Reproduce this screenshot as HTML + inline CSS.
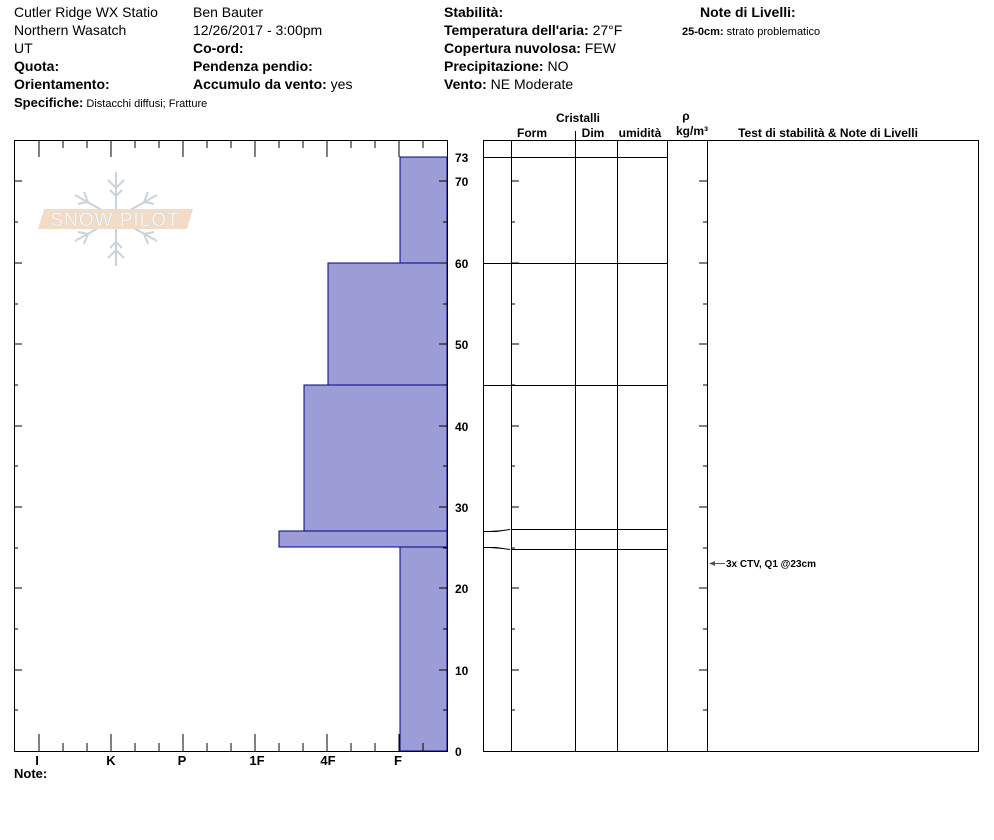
<!DOCTYPE html>
<html><head><meta charset="utf-8"><style>
body{margin:0;background:#fff;}
svg{display:block;font-family:"Liberation Sans",Arial,sans-serif;}
.b{font-weight:bold}
</style></head><body>
<svg width="994" height="840" viewBox="0 0 994 840" xmlns="http://www.w3.org/2000/svg">
<g font-size="14" fill="#000">
<text x="14" y="17">Cutler Ridge WX Statio</text>
<text x="14" y="35">Northern Wasatch</text>
<text x="14" y="53">UT</text>
<text x="14" y="71" class="b">Quota:</text>
<text x="14" y="89" class="b">Orientamento:</text>
<text x="14" y="107"><tspan class="b" font-size="13">Specifiche:</tspan><tspan font-size="11"> Distacchi diffusi; Fratture</tspan></text>
<text x="193" y="17">Ben Bauter</text>
<text x="193" y="35">12/26/2017 - 3:00pm</text>
<text x="193" y="53" class="b">Co-ord:</text>
<text x="193" y="71" class="b">Pendenza pendio:</text>
<text x="193" y="89"><tspan class="b">Accumulo da vento:</tspan> yes</text>
<text x="444" y="17" class="b">Stabilità:</text>
<text x="444" y="35"><tspan class="b">Temperatura dell'aria:</tspan> 27°F</text>
<text x="444" y="53"><tspan class="b">Copertura nuvolosa:</tspan> FEW</text>
<text x="444" y="71"><tspan class="b">Precipitazione:</tspan> NO</text>
<text x="444" y="89"><tspan class="b">Vento:</tspan>  NE Moderate</text>
<text x="700" y="17" class="b">Note di Livelli:</text>
<text x="682" y="35" font-size="11"><tspan class="b">25-0cm:</tspan> strato problematico</text>
</g>
<!-- logo -->
<g stroke="#c8d3db" stroke-width="2" fill="none">
<line x1="116" y1="172" x2="116" y2="266"/>
<line x1="75" y1="195" x2="157" y2="241"/>
<line x1="75" y1="241" x2="157" y2="195"/>
<polyline points="108,180 116,188 124,180"/><polyline points="110,190 116,196 122,190"/>
<polyline points="108,258 116,250 124,258"/><polyline points="110,248 116,242 122,248"/>
<polyline points="78,204 88,202 84,192"/><polyline points="154,204 144,202 148,192"/>
<polyline points="78,232 88,234 84,244"/><polyline points="154,232 144,234 148,244"/>
</g>
<polygon points="44,209 193,209 187,229 38,229" fill="#f2dcc6"/>
<text x="115" y="226" font-size="19" text-anchor="middle" fill="#fff" stroke="#d8d8d8" stroke-width="0.6" letter-spacing="1">SNOW PILOT</text>
<!-- left chart -->
<g fill="#9c9cd6" stroke="#00008b" stroke-width="1">
<rect x="400" y="157" width="47" height="106"/>
<rect x="328" y="263" width="119" height="122"/>
<rect x="304" y="385" width="143" height="146"/>
<rect x="279" y="531" width="168" height="16"/>
<rect x="400" y="547" width="47" height="204"/>
</g>
<rect x="14.5" y="140.5" width="433" height="611" fill="none" stroke="#000"/>
<g stroke="#000" stroke-width="1">
<path d="M39 140v17M63 140v8M87 140v8M111 140v17M135 140v8M159 140v8M183 140v17M207 140v8M231 140v8M255 140v17M279 140v8M303 140v8M327 140v17M351 140v8M375 140v8M399 140v17M423 140v8"/>
<path d="M39 751v-17M63 751v-8M87 751v-8M111 751v-17M135 751v-8M159 751v-8M183 751v-17M207 751v-8M231 751v-8M255 751v-17M279 751v-8M303 751v-8M327 751v-17M351 751v-8M375 751v-8M399 751v-17M423 751v-8"/>
<path d="M14 181h8M14 222h4M14 263h8M14 304h4M14 344h8M14 385h4M14 426h8M14 466h4M14 507h8M14 548h4M14 588h8M14 629h4M14 670h8M14 710h4"/>
<path d="M447 181h-8M447 222h-4M447 263h-8M447 304h-4M447 344h-8M447 385h-4M447 426h-8M447 466h-4M447 507h-8M447 548h-4M447 588h-8M447 629h-4M447 670h-8M447 710h-4"/>
</g>
<g font-size="12" class="b" font-weight="bold">
<text x="455" y="162">73</text><text x="455" y="186">70</text><text x="455" y="268">60</text><text x="455" y="349">50</text><text x="455" y="431">40</text><text x="455" y="512">30</text><text x="455" y="593">20</text><text x="455" y="675">10</text><text x="455" y="756">0</text>
</g>
<g font-size="13" font-weight="bold" text-anchor="middle">
<text x="37" y="765">I</text><text x="111" y="765">K</text><text x="182" y="765">P</text><text x="257" y="765">1F</text><text x="328" y="765">4F</text><text x="398" y="765">F</text>
</g>
<text x="14" y="778" font-size="13" font-weight="bold">Note:</text>
<!-- right chart -->
<g font-size="12" font-weight="bold" text-anchor="middle">
<text x="578" y="122">Cristalli</text>
<text x="532" y="137">Form</text><text x="593" y="137">Dim</text><text x="640" y="137">umidità</text>
<text x="686" y="120">ρ</text><text x="692" y="135">kg/m³</text>
<text x="828" y="137">Test di stabilità &amp; Note di Livelli</text>
</g>
<rect x="483.5" y="140.5" width="495" height="611" fill="none" stroke="#000"/>
<g stroke="#000" stroke-width="1">
<path d="M511.5 140v611M575.5 131v620M617.5 140v611M667.5 140v611M707.5 140v611"/>
<path d="M483 157.5h184M483 263.5h184M483 385.5h184M511 529.5h156M511 549.5h156M483 531.5h13l14-2M483 547.5h13l14 2"/>
<path d="M511 181h8M511 222h4M511 263h8M511 304h4M511 344h8M511 385h4M511 426h8M511 466h4M511 507h8M511 548h4M511 588h8M511 629h4M511 670h8M511 710h4"/>
<path d="M707 181h-8M707 222h-4M707 263h-8M707 304h-4M707 344h-8M707 385h-4M707 426h-8M707 466h-4M707 507h-8M707 548h-4M707 588h-8M707 629h-4M707 670h-8M707 710h-4"/>
</g>
<line x1="710" y1="563.5" x2="725" y2="563.5" stroke="#555"/>
<polygon points="709,563.5 715,561 715,566" fill="#555"/>
<text x="726" y="567" font-size="10" font-weight="bold">3x CTV, Q1 @23cm</text>
</svg>
</body></html>
